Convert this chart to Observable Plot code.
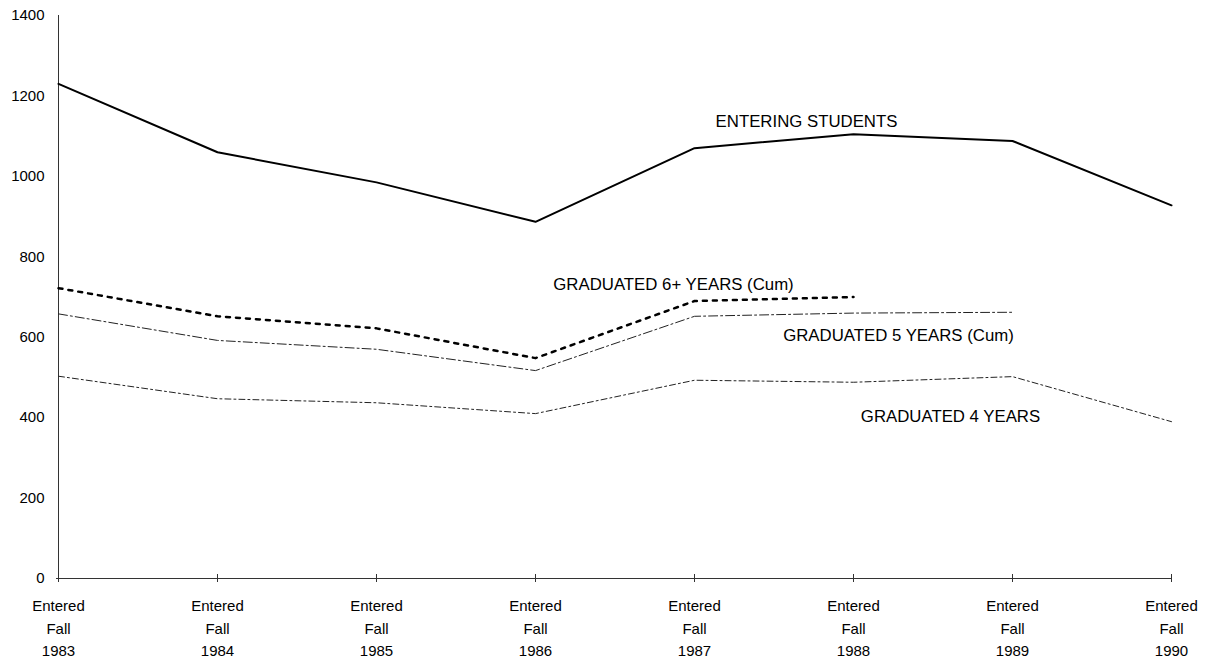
<!DOCTYPE html>
<html><head><meta charset="utf-8">
<script src="https://cdn.jsdelivr.net/npm/d3@7"></script>
<script src="https://cdn.jsdelivr.net/npm/@observablehq/plot@0.6"></script>
<style>html,body{margin:0;padding:0;background:#fff;} svg{display:block}</style>
</head><body><div id="chart"></div>
<script>
const years = ["1983","1984","1985","1986","1987","1988","1989","1990"];
const entering = [1230, 1060, 985, 887, 1070, 1105, 1088, 928];
const grad6 = [722, 652, 622, 548, 690, 700, null, null];
const grad5 = [658, 592, 570, 517, 652, 660, 662, null];
const grad4 = [503, 447, 437, 410, 493, 488, 502, 390];
const yTicks = [0, 200, 400, 600, 800, 1000, 1200, 1400];
const seriesNames = ["ENTERING STUDENTS", "GRADUATED 6+ YEARS (Cum)", "GRADUATED 5 YEARS (Cum)", "GRADUATED 4 YEARS"];

const seriesValues = [entering, grad6, grad5, grad4];
const rows = seriesValues.map((vals, i) =>
  years.map((y, j) => ({year: y, value: vals[j], series: seriesNames[i]})).filter(d => d.value != null)
);

const font = "Liberation Sans, Arial, sans-serif";

const label = (name, year, value, dx) =>
  Plot.text([{name, year, value}], {x: "year", y: "value", dx, text: "name", fontSize: 16.8, fill: "#000"});

const chart = Plot.plot({
  width: 1209,
  height: 664,
  marginLeft: 56,
  marginRight: 37,
  marginTop: 15,
  marginBottom: 86,
  style: {fontFamily: font, fontSize: "15px", color: "#000", background: "#fff"},
  x: {type: "point", domain: years, padding: 0},
  y: {domain: [0, 1400]},
  marks: [
    Plot.ruleY([0], {stroke: "#333", strokeWidth: 1}),
    Plot.ruleX([years[0]], {stroke: "#333", strokeWidth: 1}),
    Plot.ruleX(years, {x: d => d, y1: 0, y2: 0, insetTop: -4, insetBottom: -4, stroke: "#333"}),
    Plot.ruleY(yTicks, {y: d => d, x1: years[0], x2: years[0], insetLeft: -4, insetRight: -2, stroke: "#333"}),
    Plot.axisY({ticks: yTicks, tickSize: 0, tickPadding: 12, label: null, fontSize: 15, tickFormat: d => String(d)}),
    Plot.axisX({tickSize: 0, tickPadding: 17, label: null, lineHeight: 1.5, fontSize: 15,
      tickFormat: d => "Entered\nFall\n" + d}),
    Plot.line(rows[0], {x: "year", y: "value", stroke: "#000", strokeWidth: 2}),
    Plot.line(rows[1], {x: "year", y: "value", stroke: "#000", strokeWidth: 2.5, strokeDasharray: "4,6"}),
    Plot.line(rows[2], {x: "year", y: "value", stroke: "#222", strokeWidth: 1, strokeDasharray: "9,3,2,3"}),
    Plot.line(rows[3], {x: "year", y: "value", stroke: "#222", strokeWidth: 1, strokeDasharray: "6,3,2,3"}),
    label(seriesNames[0], "1988", 1137, -47),
    label(seriesNames[1], "1987", 730, -21),
    label(seriesNames[2], "1988", 605, 45),
    label(seriesNames[3], "1989", 403, -62)
  ]
});
document.getElementById("chart").appendChild(chart);
</script>
</body></html>
